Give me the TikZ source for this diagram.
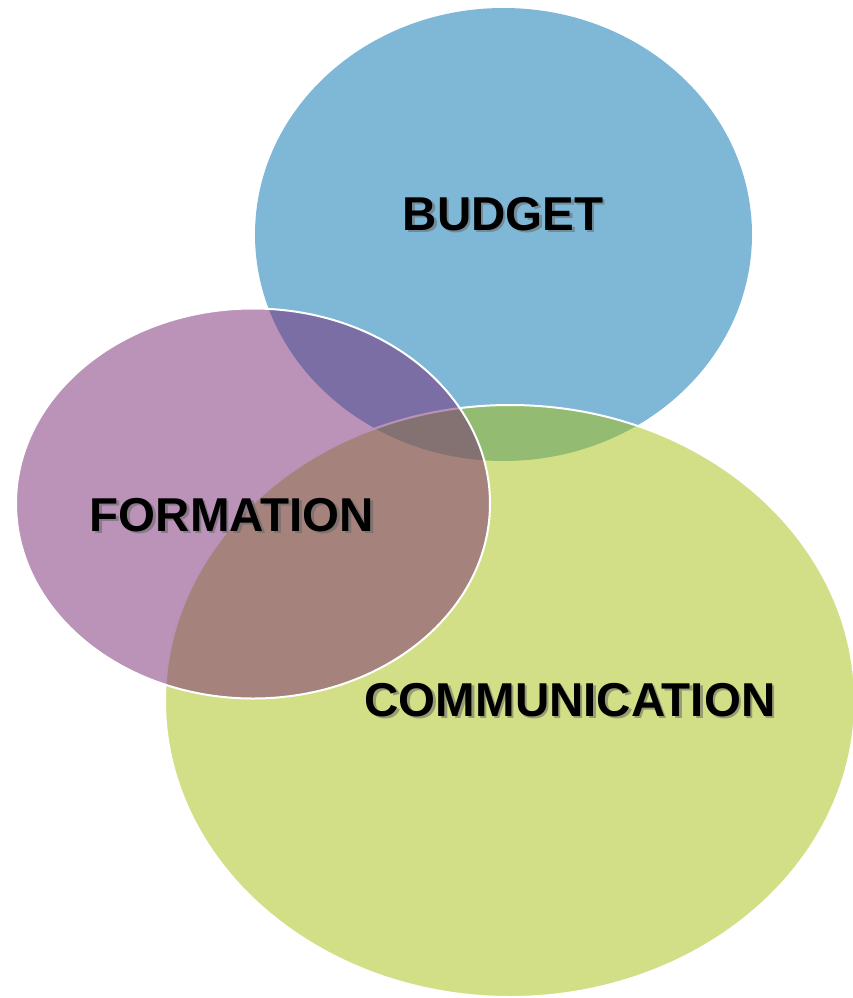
\documentclass[tikz,border=0pt]{standalone}
\usepackage{fontspec}
\setmainfont{Liberation Sans}
\definecolor{budgetblue}{RGB}{0,113,175}
\definecolor{commgreen}{RGB}{167,191,15}
\definecolor{formpurple}{RGB}{119,39,115}
\tikzset{
    venn/.style={fill opacity=0.5, draw=white, line width=2pt},
    lbl/.style={font=\bfseries\fontsize{47.5}{50}\selectfont, text=black, inner sep=0pt},
    lblshadow/.style={lbl, text=black!60, text opacity=0.55}
}

\begin{document}
\begin{tikzpicture}[x=1pt, y=-1pt]
                \useasboundingbox (0, 0) rectangle (853, 998);
                % Circles:
                \fill[budgetblue, fill opacity=0.5] (503.5, 234.5) ellipse [x radius=248.5, y radius=226.5];
                \filldraw[venn, fill=commgreen] (510, 701) ellipse [x radius=345, y radius=296];
                \filldraw[venn, fill=formpurple] (253, 503.5) ellipse [x radius=237, y radius=195];
                % Labels:
                \node[lblshadow] (budgetshd) at (505.5, 216.5) {BUDGET};
                \node[lbl] (budget) at (503, 214) {BUDGET};
                \node[lblshadow] (formationshd) at (234.5, 517.5) {FORMATION};
                \node[lbl] (formation) at (232, 515) {FORMATION};
                \node[lblshadow] (commshd) at (572.5, 702.5) {COMMUNICATION};
                \node[lbl] (comm) at (570, 700) {COMMUNICATION};
            \end{tikzpicture}
\end{document}
